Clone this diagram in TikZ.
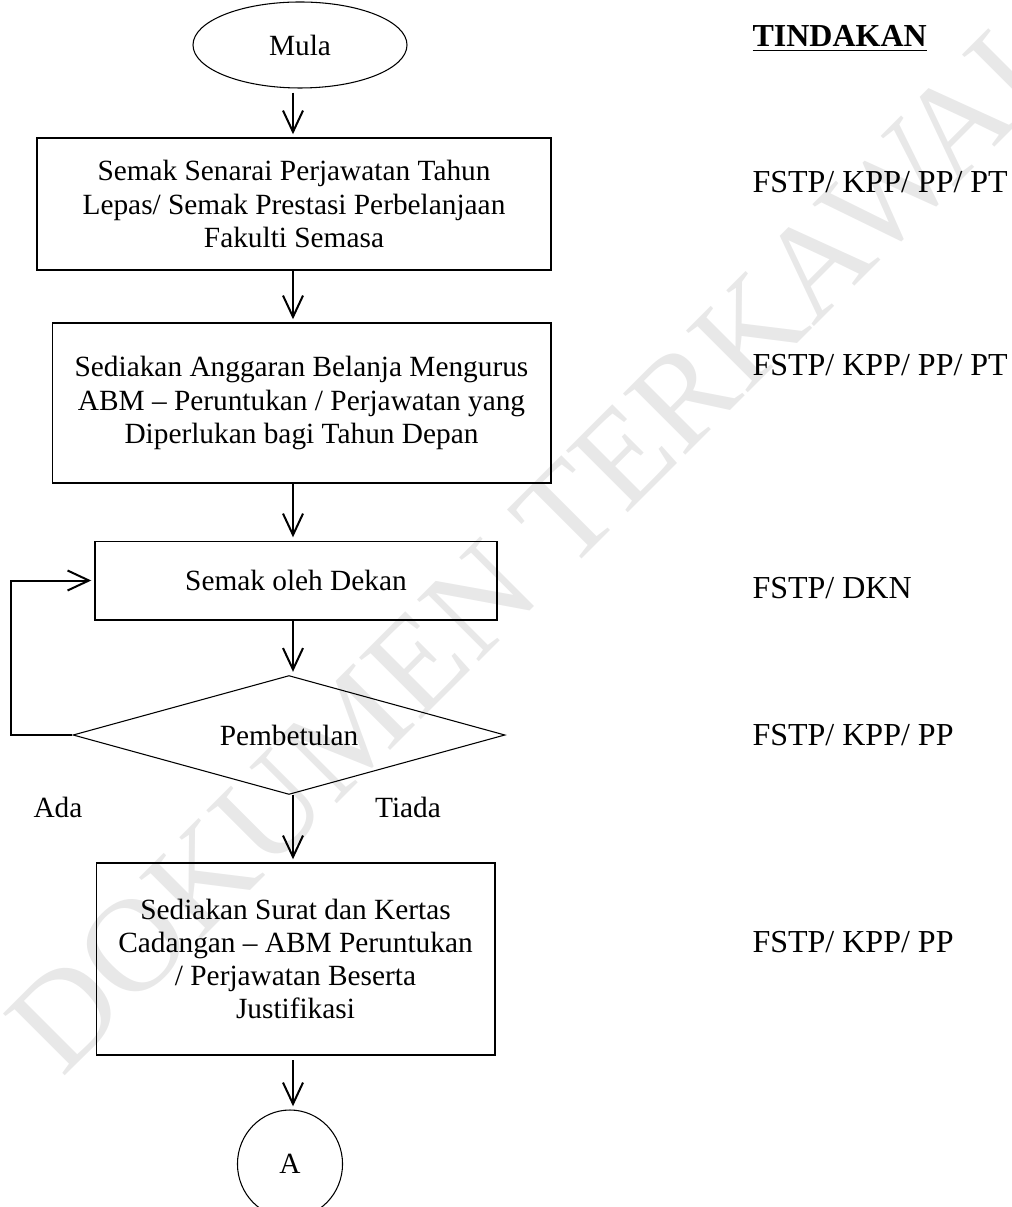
\documentclass[tikz,border=0pt]{standalone}
\usepackage{fontspec}
\setmainfont{Liberation Serif}
\usetikzlibrary{shapes.geometric, arrows.meta, positioning}

\tikzset{
	prosesbox/.style={draw, line width=0.4pt, align=center, inner sep=0pt},
	hujungbox/.style={ellipse, draw, line width=0.4pt, inner sep=0pt},
	flowarrow/.style={line width=0.75pt, -{Straight Barb[length=8pt, width=7.5pt]}, shorten >=1.2pt},
	tindakan/.style={anchor=base west, inner sep=0pt, font=\fontsize{12}{14}\selectfont}
}

\begin{document}
\begin{tikzpicture}[x=0.375pt, y=-0.375pt, every node/.append style={text=black, font=\fontsize{11}{12.4}\selectfont}]
	\useasboundingbox (0,0) rectangle (1011,1207);
	% watermark
	\node[rotate=45, text=black!9, font=\fontsize{50}{50}\selectfont] (tanda) at (540,540) {DOKUMEN TERKAWAL};
	
	\node[hujungbox, minimum width=80.25pt, minimum height=32.25pt] (mula) at (300,45) {Mula};
	\node[prosesbox, minimum width=192.75pt, minimum height=49.5pt] (senarai) at (294,204) {Semak Senarai Perjawatan Tahun\\ Lepas/ Semak Prestasi Perbelanjaan\\ Fakulti Semasa};
	\node[prosesbox, minimum width=187.1pt, minimum height=60pt] (anggaran) at (301.5,403) {Sediakan Anggaran Belanja Mengurus\\ ABM – Peruntukan / Perjawatan yang\\ Diperlukan bagi Tahun Depan};
	\node[prosesbox, minimum width=150.75pt, minimum height=29.6pt] (dekan) at (296,580.5) {Semak oleh Dekan};
	\node[diamond, draw, line width=0.4pt, aspect=3.6, inner sep=0pt, minimum width=162pt, minimum height=44.6pt] (betul) at (289,735) {Pembetulan};
	\node[prosesbox, minimum width=149.6pt, minimum height=72pt] (surat) at (295.5,959) {Sediakan Surat dan Kertas\\ Cadangan – ABM Peruntukan\\ / Perjawatan Beserta\\ Justifikasi};
	\node[hujungbox, minimum width=39.4pt, minimum height=40.5pt] (sambung) at (290,1164) {A};
	
	\node[anchor=base] (ada) at (58,817) {Ada};
	\node[anchor=base] (tiada) at (408,817) {Tiada};
	
	\coordinate (paksi) at (293,0);
	\draw[flowarrow, shorten <=1.5pt] (mula.south -| paksi) -- (senarai.north -| paksi);
	\draw[flowarrow] (senarai.south -| paksi) -- (anggaran.north -| paksi);
	\draw[flowarrow] (anggaran.south -| paksi) -- (dekan.north -| paksi);
	\draw[flowarrow] (dekan.south -| paksi) -- (betul.north -| paksi);
	\draw[flowarrow] (betul.south -| paksi) -- (surat.north -| paksi);
	\draw[flowarrow, shorten <=1.8pt] (surat.south -| paksi) -- (sambung.north -| paksi);
	\draw[flowarrow] (betul.west) -- ++(-61,0) |- (dekan.west);
	
	\node[tindakan] (tajuk) at (752,47) {\underline{\textbf{TINDAKAN}}};
	\node[tindakan] (olehsenarai) at (752,193) {FSTP/ KPP/ PP/ PT};
	\node[tindakan] (olehanggaran) at (752,376) {FSTP/ KPP/ PP/ PT};
	\node[tindakan] (olehdekan) at (752,598) {FSTP/ DKN};
	\node[tindakan] (olehbetul) at (752,745) {FSTP/ KPP/ PP};
	\node[tindakan] (olehsurat) at (752,952) {FSTP/ KPP/ PP};
\end{tikzpicture}
\end{document}
